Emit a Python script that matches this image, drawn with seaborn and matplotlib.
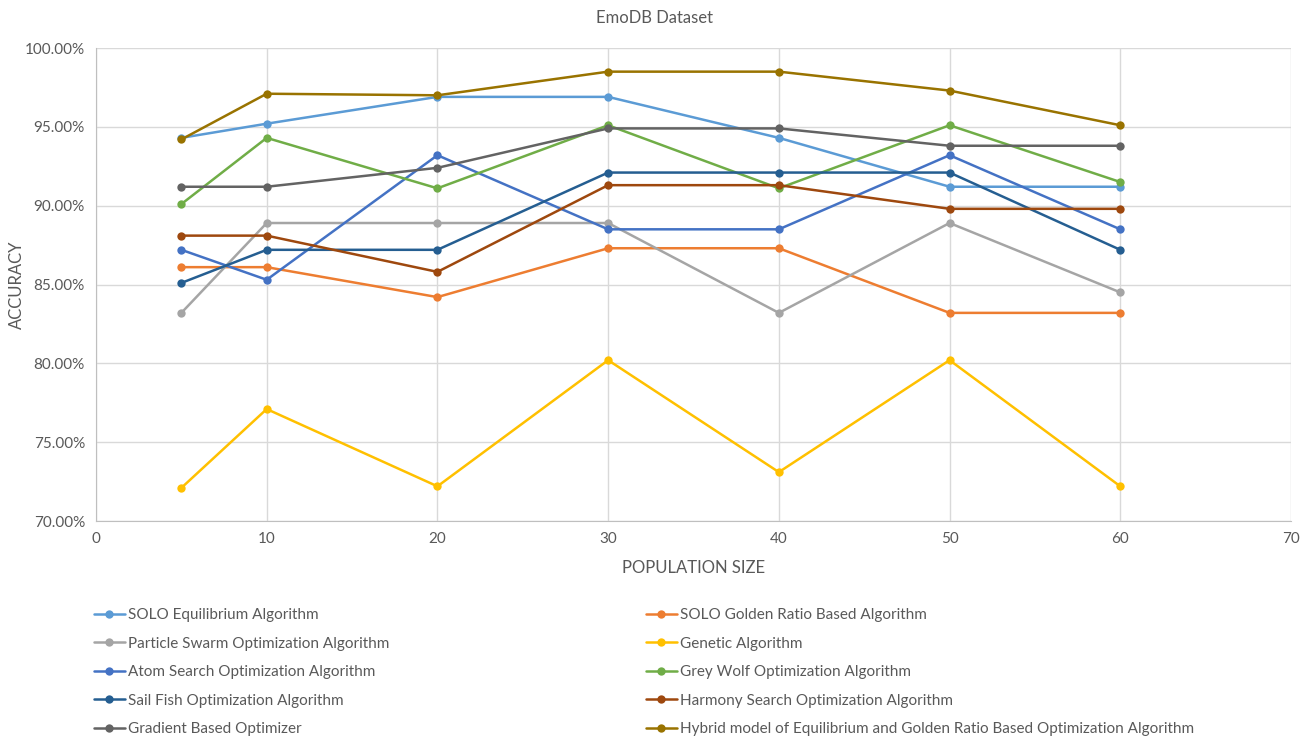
import numpy as np
import pandas as pd
import matplotlib
matplotlib.use("Agg")
import matplotlib.pyplot as plt
import seaborn as sns
from matplotlib.ticker import PercentFormatter

# population sizes on the x axis
population = [5, 10, 20, 30, 40, 50, 60]

# accuracy (%) per algorithm
solo_eq = [94.3, 95.2, 96.9, 96.9, 94.3, 91.2, 91.2]
solo_golden = [86.1, 86.1, 84.2, 87.3, 87.3, 83.2, 83.2]
pso = [83.2, 88.9, 88.9, 88.9, 83.2, 88.9, 84.5]
genetic = [72.1, 77.1, 72.2, 80.2, 73.1, 80.2, 72.2]
atom = [87.2, 85.3, 93.2, 88.5, 88.5, 93.2, 88.5]
grey_wolf = [90.1, 94.3, 91.1, 95.1, 91.1, 95.1, 91.5]
sail_fish = [85.1, 87.2, 87.2, 92.1, 92.1, 92.1, 87.2]
harmony = [88.1, 88.1, 85.8, 91.3, 91.3, 89.8, 89.8]
gradient = [91.2, 91.2, 92.4, 94.9, 94.9, 93.8, 93.8]
hybrid = [94.2, 97.1, 97.0, 98.5, 98.5, 97.3, 95.1]

labels = ["SOLO Equilibrium Algorithm",
          "SOLO Golden Ratio Based Algorithm",
          "Particle Swarm Optimization Algorithm",
          "Genetic Algorithm",
          "Atom Search Optimization Algorithm",
          "Grey Wolf Optimization Algorithm",
          "Sail Fish Optimization Algorithm",
          "Harmony Search Optimization Algorithm",
          "Gradient Based Optimizer",
          "Hybrid model of Equilibrium and Golden Ratio Based Optimization Algorithm"]
series = [solo_eq, solo_golden, pso, genetic, atom,
          grey_wolf, sail_fish, harmony, gradient, hybrid]
colors = ["#5B9BD5", "#ED7D31", "#A5A5A5", "#FFC000", "#4472C4",
          "#70AD47", "#255E91", "#9E480E", "#636363", "#997300"]

df = pd.concat([pd.DataFrame({"pop": population, "acc": s, "algo": lab})
                for lab, s in zip(labels, series)], ignore_index=True)

sns.set_style("white")
plt.rcParams['font.family'] = ['Lato', 'DejaVu Sans']
text_col = "#595959"

fig = plt.figure(figsize=(13.11, 7.38), dpi=100)
ax = fig.add_axes([96 / 1311, 1 - 521 / 738, (1291 - 96) / 1311, (521 - 48) / 738])

sns.lineplot(data=df, x="pop", y="acc", hue="algo", hue_order=labels,
             palette=colors, marker="o", markersize=6, markeredgewidth=0,
             linewidth=1.8, ax=ax, legend=False)

ax.set_xlim(0, 70)
ax.set_ylim(70, 100)
ax.set_xticks(range(0, 71, 10))
ax.set_yticks(np.arange(70, 100.1, 5))
ax.yaxis.set_major_formatter(PercentFormatter(decimals=2))
ax.grid(True, color="#D9D9D9", linewidth=1)
ax.set_axisbelow(True)
for side in ["top", "right"]:
    ax.spines[side].set_visible(False)
for side in ["left", "bottom"]:
    ax.spines[side].set_color("#BFBFBF")
ax.tick_params(axis="both", length=0, labelsize=11, colors=text_col, pad=8)
ax.set_xlabel("POPULATION SIZE", fontsize=12, color=text_col, labelpad=10)
ax.set_ylabel("")
fig.text(17 / 1311, 1 - 285 / 738, "ACCURACY", rotation=90, ha="center",
         va="center", fontsize=12, color=text_col)
fig.text(655 / 1311, 1 - 18 / 738, "EmoDB Dataset", ha="center", va="center",
         fontsize=12, color=text_col)

# Легенда в два столбца, построчно как в Excel
handles = [plt.Line2D([], [], color=c, marker="o", markersize=6,
                      markeredgewidth=0, linewidth=1.8) for c in colors]
for k, x0 in [(0, 88 / 1311), (1, 640 / 1311)]:
    idx = list(range(k, 10, 2))
    fig.legend([handles[i] for i in idx], [labels[i] for i in idx],
               loc="upper left", bbox_to_anchor=(x0, 1 - 602 / 738),
               frameon=False, fontsize=11, labelcolor=text_col,
               handlelength=2.0, handletextpad=0.2, labelspacing=0.95,
               borderaxespad=0)

fig.savefig("out.png", dpi=100)
